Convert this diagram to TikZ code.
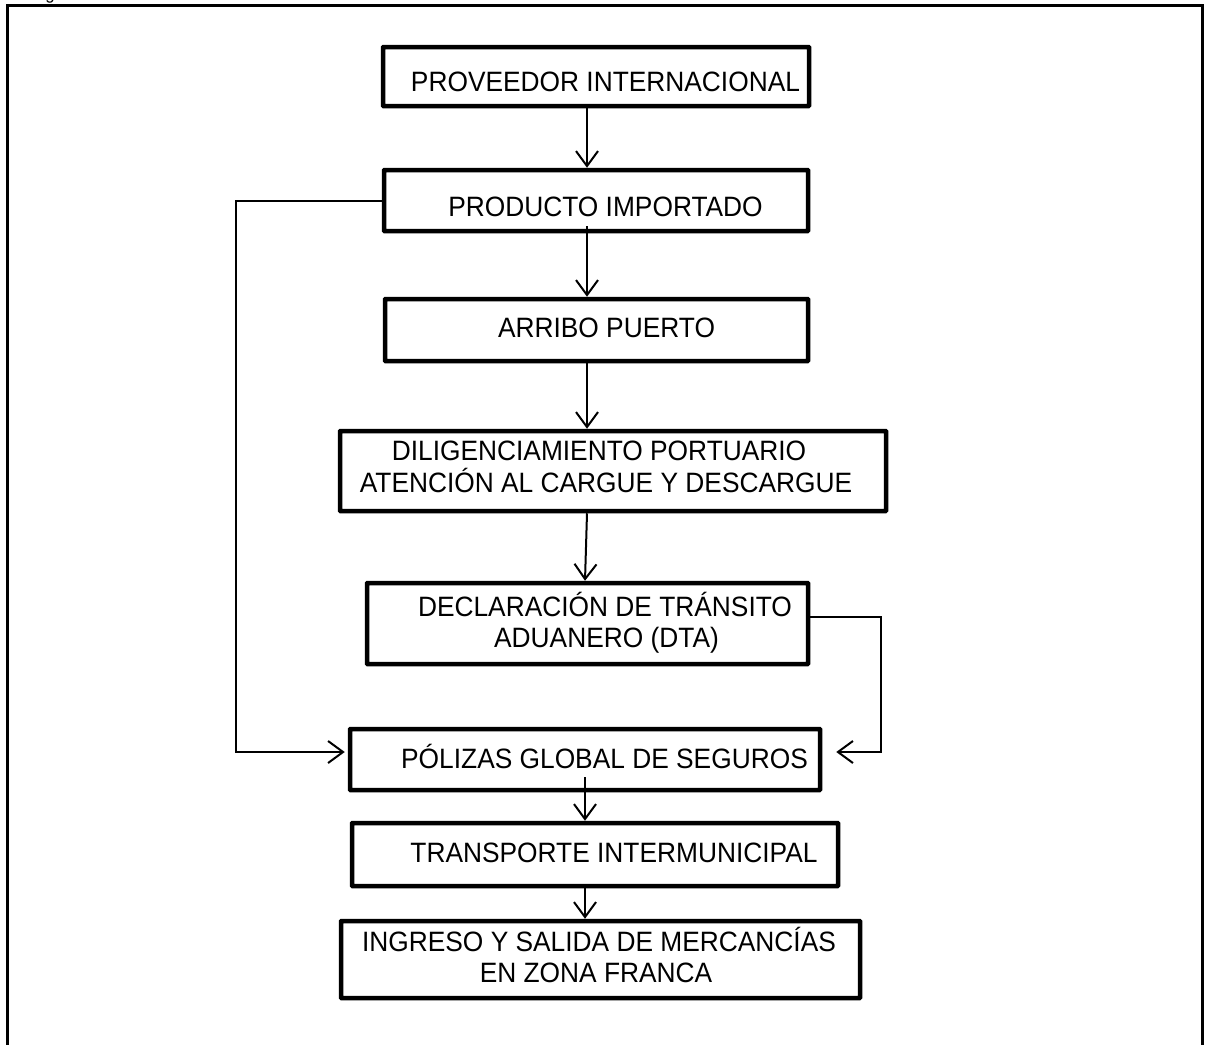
\documentclass[tikz,border=0pt]{standalone}
\usepackage{fontspec}
\setmainfont[FakeStretch=0.94]{Liberation Sans}
\usetikzlibrary{arrows.meta}

\tikzset{
  stepbox/.style={draw, rectangle, line width=4.5pt, inner sep=0pt, rounded corners=0.6pt},
  steptext/.style={inner sep=0pt, font=\fontsize{28}{31}\selectfont,
                   text height=20pt, text depth=0pt},
  conn/.style={line width=2pt},
  arr/.style={conn, -{Straight Barb[length=15pt, width=22pt]}},
  frame/.style={line width=3pt},
}

\begin{document}
\begin{tikzpicture}[x=1pt, y=-1pt]
  \useasboundingbox (0,0) rectangle (1207,1044);
  \clip (0,0) rectangle (1207,1044);

  % caption line above the frame (only its descender falls inside)
  \node[inner sep=0pt, font=\fontsize{18}{20}\selectfont, anchor=base] (cap) at (50,-1) {g};

  % outer frame, open at the bottom
  \draw[frame] (7,1060) -- (7,5) -- (1202,5) -- (1202,1060);

  % process boxes
  \node[stepbox, minimum width=426pt, minimum height=59pt] (b1) at (596,76.5) {};
  \node[stepbox, minimum width=424pt, minimum height=61pt] (b2) at (596,200.5) {};
  \node[stepbox, minimum width=423pt, minimum height=62pt] (b3) at (596.5,330) {};
  \node[stepbox, minimum width=546pt, minimum height=80pt] (b4) at (613,471) {};
  \node[stepbox, minimum width=441pt, minimum height=81pt] (b5) at (587.5,623.5) {};
  \node[stepbox, minimum width=470pt, minimum height=61pt] (b6) at (585,759.5) {};
  \node[stepbox, minimum width=486pt, minimum height=63pt] (b7) at (595,854.5) {};
  \node[stepbox, minimum width=519pt, minimum height=77pt] (b8) at (600.5,959.5) {};

  % box labels
  \node[steptext] (t1)  at (605.5,81.5) {PROVEEDOR INTERNACIONAL};
  \node[steptext] (t2)  at (605.5,206)  {PRODUCTO IMPORTADO};
  \node[steptext] (t3)  at (606.5,327.5){ARRIBO PUERTO};
  \node[steptext] (t4a) at (599,450)    {DILIGENCIAMIENTO PORTUARIO};
  \node[steptext] (t4b) at (606,482)    {ATENCIÓN AL CARGUE Y DESCARGUE};
  \node[steptext] (t5a) at (605,606)    {DECLARACIÓN DE TRÁNSITO};
  \node[steptext] (t5b) at (606.5,637)  {ADUANERO (DTA)};
  \node[steptext] (t6)  at (604.5,758)  {PÓLIZAS GLOBAL DE SEGUROS};
  \node[steptext] (t7)  at (614,852)    {TRANSPORTE INTERMUNICIPAL};
  \node[steptext] (t8a) at (599,941.5)  {INGRESO Y SALIDA DE MERCANCÍAS};
  \node[steptext] (t8b) at (596,972.5)  {EN ZONA FRANCA};

  % columns of the downward connectors
  \coordinate (ca) at (587,0);
  \coordinate (cb) at (585,0);

  \draw[arr] (b1.south -| ca) -- (b2.north -| ca);
  \draw[arr] ([yshift=7pt]b2.south -| ca) -- (b3.north -| ca);
  \draw[arr] (b3.south -| ca) -- (b4.north -| ca);
  \draw[arr] (b4.south -| ca) -- (b5.north -| cb);
  \draw[arr] ([yshift=15pt]b6.south -| cb) -- (b7.north -| cb);
  \draw[arr] (b7.south -| cb) -- (b8.north -| cb);

  % side loops into the insurance box
  \coordinate (lbend) at (236,752);
  \coordinate (rtop) at (881,617);
  \coordinate (rbot) at (881,752);

  \draw[arr, shorten >=3pt] (b2.west) -| (lbend) -- (b6.west |- lbend);
  \draw[arr, shorten >=14pt] (b5.east |- rtop) -- (rtop) -- (rbot) -- (b6.east |- rbot);
\end{tikzpicture}
\end{document}
